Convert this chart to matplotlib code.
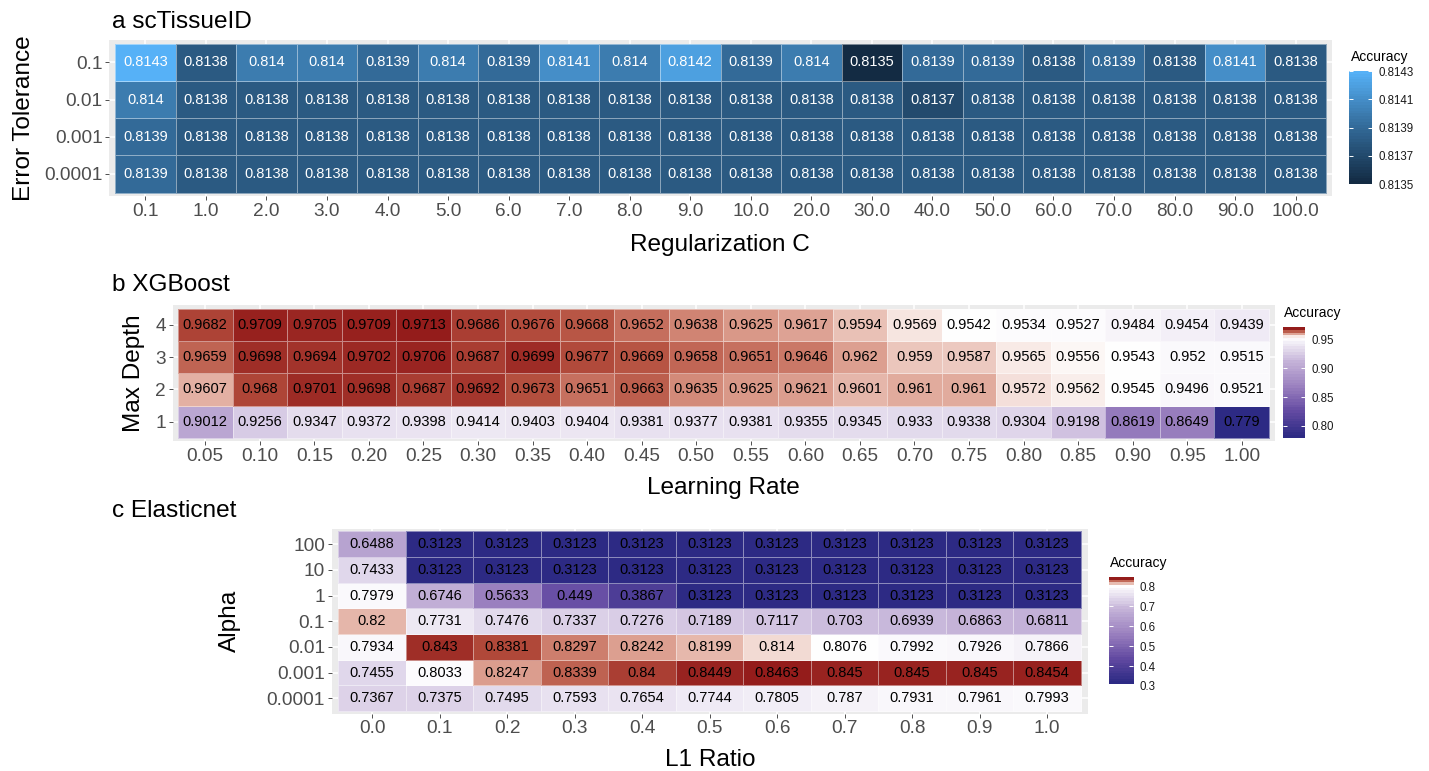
import numpy as np
import matplotlib
matplotlib.use("Agg")
import matplotlib.pyplot as plt
from matplotlib.colors import LinearSegmentedColormap, Normalize, TwoSlopeNorm

plt.rcParams['font.family'] = ['Liberation Sans', 'DejaVu Sans']

# ---- a: scTissueID grid search ----
reg_c = ["0.1", "1.0", "2.0", "3.0", "4.0", "5.0", "6.0", "7.0", "8.0", "9.0",
         "10.0", "20.0", "30.0", "40.0", "50.0", "60.0", "70.0", "80.0", "90.0", "100.0"]
error_tol = ["0.0001", "0.001", "0.01", "0.1"]
sc_tol_1e4 = [0.8139, 0.8138, 0.8138, 0.8138, 0.8138, 0.8138, 0.8138, 0.8138, 0.8138, 0.8138,
              0.8138, 0.8138, 0.8138, 0.8138, 0.8138, 0.8138, 0.8138, 0.8138, 0.8138, 0.8138]
sc_tol_1e3 = [0.8139, 0.8138, 0.8138, 0.8138, 0.8138, 0.8138, 0.8138, 0.8138, 0.8138, 0.8138,
              0.8138, 0.8138, 0.8138, 0.8138, 0.8138, 0.8138, 0.8138, 0.8138, 0.8138, 0.8138]
sc_tol_1e2 = [0.814, 0.8138, 0.8138, 0.8138, 0.8138, 0.8138, 0.8138, 0.8138, 0.8138, 0.8138,
              0.8138, 0.8138, 0.8138, 0.8137, 0.8138, 0.8138, 0.8138, 0.8138, 0.8138, 0.8138]
sc_tol_1e1 = [0.8143, 0.8138, 0.814, 0.814, 0.8139, 0.814, 0.8139, 0.8141, 0.814, 0.8142,
              0.8139, 0.814, 0.8135, 0.8139, 0.8139, 0.8138, 0.8139, 0.8138, 0.8141, 0.8138]

# ---- b: XGBoost grid search ----
learning_rate = ["0.05", "0.10", "0.15", "0.20", "0.25", "0.30", "0.35", "0.40", "0.45", "0.50",
                 "0.55", "0.60", "0.65", "0.70", "0.75", "0.80", "0.85", "0.90", "0.95", "1.00"]
max_depth = ["1", "2", "3", "4"]
xgb_depth1 = [0.9012, 0.9256, 0.9347, 0.9372, 0.9398, 0.9414, 0.9403, 0.9404, 0.9381, 0.9377,
              0.9381, 0.9355, 0.9345, 0.933, 0.9338, 0.9304, 0.9198, 0.8619, 0.8649, 0.779]
xgb_depth2 = [0.9607, 0.968, 0.9701, 0.9698, 0.9687, 0.9692, 0.9673, 0.9651, 0.9663, 0.9635,
              0.9625, 0.9621, 0.9601, 0.961, 0.961, 0.9572, 0.9562, 0.9545, 0.9496, 0.9521]
xgb_depth3 = [0.9659, 0.9698, 0.9694, 0.9702, 0.9706, 0.9687, 0.9699, 0.9677, 0.9669, 0.9658,
              0.9651, 0.9646, 0.962, 0.959, 0.9587, 0.9565, 0.9556, 0.9543, 0.952, 0.9515]
xgb_depth4 = [0.9682, 0.9709, 0.9705, 0.9709, 0.9713, 0.9686, 0.9676, 0.9668, 0.9652, 0.9638,
              0.9625, 0.9617, 0.9594, 0.9569, 0.9542, 0.9534, 0.9527, 0.9484, 0.9454, 0.9439]

# ---- c: Elasticnet grid search ----
l1_ratio = ["0.0", "0.1", "0.2", "0.3", "0.4", "0.5", "0.6", "0.7", "0.8", "0.9", "1.0"]
alpha = ["0.0001", "0.001", "0.01", "0.1", "1", "10", "100"]
en_a1e4 = [0.7367, 0.7375, 0.7495, 0.7593, 0.7654, 0.7744, 0.7805, 0.787, 0.7931, 0.7961, 0.7993]
en_a1e3 = [0.7455, 0.8033, 0.8247, 0.8339, 0.84, 0.8449, 0.8463, 0.845, 0.845, 0.845, 0.8454]
en_a1e2 = [0.7934, 0.843, 0.8381, 0.8297, 0.8242, 0.8199, 0.814, 0.8076, 0.7992, 0.7926, 0.7866]
en_a1e1 = [0.82, 0.7731, 0.7476, 0.7337, 0.7276, 0.7189, 0.7117, 0.703, 0.6939, 0.6863, 0.6811]
en_a1 = [0.7979, 0.6746, 0.5633, 0.449, 0.3867, 0.3123, 0.3123, 0.3123, 0.3123, 0.3123, 0.3123]
en_a10 = [0.7433, 0.3123, 0.3123, 0.3123, 0.3123, 0.3123, 0.3123, 0.3123, 0.3123, 0.3123, 0.3123]
en_a100 = [0.6488, 0.3123, 0.3123, 0.3123, 0.3123, 0.3123, 0.3123, 0.3123, 0.3123, 0.3123, 0.3123]

W, H = 1429, 771
fig = plt.figure(figsize=(W / 100, H / 100), dpi=100)

blues = LinearSegmentedColormap.from_list(
    "gg_blues", ["#132B43", "#336A98", "#56B1F7"])
purple_red = LinearSegmentedColormap.from_list(
    "purple_red",
    [(0.0, "#2D2A84"), (0.125, "#634AA2"), (0.25, "#9A80BF"), (0.375, "#C4B2D8"),
     (0.5, "#FFFFFF"), (0.625, "#EBC5BB"), (0.75, "#D68F7E"), (0.875, "#B5503F"),
     (1.0, "#941C1B")])


def px_box(left, top, right, bottom):
    return [left / W, 1 - bottom / H, (right - left) / W, (bottom - top) / H]


def fig_text(x, y, s, **kw):
    fig.text(x / W, 1 - y / H, s, **kw)


def heatmap(box, rows, xlabels, ylabels, cmap, norm, text_color):
    ax = fig.add_axes(px_box(*box))
    z = np.array(rows)
    ny, nx = z.shape
    ax.set_facecolor("#EBEBEB")
    ax.set_axisbelow(True)
    ax.pcolormesh(np.arange(nx + 1) - 0.5, np.arange(ny + 1) - 0.5, z,
                  cmap=cmap, norm=norm, edgecolors=(1, 1, 1, 0.45), linewidth=0.6)
    for j in range(ny):
        for i in range(nx):
            ax.text(i, j, f"{z[j, i]:g}", ha="center", va="center",
                    fontsize=10.5, color=text_color)
    ax.set_xlim(-0.6, nx - 0.4)
    ax.set_ylim(-0.6, ny - 0.4)
    ax.set_xticks(range(nx))
    ax.set_xticklabels(xlabels)
    ax.set_yticks(range(ny))
    ax.set_yticklabels(ylabels)
    ax.grid(True, color="white", linewidth=1.1)
    for sp in ax.spines.values():
        sp.set_visible(False)
    ax.tick_params(length=2.8, width=0.6, color="#333333", labelcolor="#4D4D4D",
                   labelsize=13.7, pad=1.8)
    return ax


def colorbar(box, cmap, norm, vmin, vmax, ticks, fmt):
    cax = fig.add_axes(px_box(*box))
    vals = np.linspace(vmin, vmax, 40).reshape(-1, 1)
    cax.imshow(cmap(norm(vals)), aspect="auto", origin="lower",
               extent=[0, 1, vmin, vmax], interpolation="nearest")
    cax.set_xlim(0, 1)
    cax.set_ylim(vmin, vmax)
    cax.set_xticks([])
    cax.set_yticks(ticks)
    cax.set_yticklabels([fmt % t for t in ticks])
    cax.tick_params(axis="y", direction="in", length=3.2, width=0.7, color="white",
                    left=True, right=True, labelleft=False, labelright=True,
                    labelsize=8.3, labelcolor="#1A1A1A", pad=5)
    for sp in cax.spines.values():
        sp.set_visible(False)
    return cax


# panel a
sc_rows = [sc_tol_1e4, sc_tol_1e3, sc_tol_1e2, sc_tol_1e1]
sc_norm = Normalize(vmin=0.8135, vmax=0.8143)
heatmap((109, 40, 1332, 196.3), sc_rows, reg_c, error_tol, blues, sc_norm, "white")
colorbar((1349, 71, 1372, 184), blues, sc_norm, 0.8135, 0.8143,
         [0.8135, 0.8137, 0.8139, 0.8141, 0.8143], "%.4f")
fig_text(112, 28, "a scTissueID", fontsize=17.6, va="baseline")
fig_text(720, 251, "Regularization C", fontsize=17.6, ha="center", va="baseline")
fig_text(24, 118, "Error Tolerance", fontsize=17.6, rotation=90, ha="center", va="center")
fig_text(1351, 61, "Accuracy", fontsize=10, va="baseline")

# panel b
xgb_rows = [xgb_depth1, xgb_depth2, xgb_depth3, xgb_depth4]
xgb_min, xgb_max = np.min(xgb_rows), np.max(xgb_rows)
xgb_norm = TwoSlopeNorm(vmin=xgb_min, vcenter=0.955, vmax=xgb_max)
heatmap((172.5, 305.3, 1274.5, 441.2), xgb_rows, learning_rate, max_depth,
        purple_red, xgb_norm, "black")
colorbar((1283, 327, 1305, 438), purple_red, xgb_norm, xgb_min, xgb_max,
         [0.80, 0.85, 0.90, 0.95], "%.2f")
fig_text(112, 290.7, "b XGBoost", fontsize=17.6, va="baseline")
fig_text(723, 494, "Learning Rate", fontsize=17.6, ha="center", va="baseline")
fig_text(134, 373, "Max Depth", fontsize=17.6, rotation=90, ha="center", va="center")
fig_text(1284, 317, "Accuracy", fontsize=10, va="baseline")

# panel c
en_rows = [en_a1e4, en_a1e3, en_a1e2, en_a1e1, en_a1, en_a10, en_a100]
en_min, en_max = np.min(en_rows), np.max(en_rows)
en_norm = TwoSlopeNorm(vmin=en_min, vcenter=0.808, vmax=en_max)
heatmap((331.5, 528.9, 1087.6, 713.6), en_rows, l1_ratio, alpha,
        purple_red, en_norm, "black")
colorbar((1109, 577, 1133, 686), purple_red, en_norm, en_min, en_max,
         [0.3, 0.4, 0.5, 0.6, 0.7, 0.8], "%.1f")
fig_text(112, 516.7, "c Elasticnet", fontsize=17.6, va="baseline")
fig_text(710, 766, "L1 Ratio", fontsize=17.6, ha="center", va="baseline")
fig_text(230, 621, "Alpha", fontsize=17.6, rotation=90, ha="center", va="center")
fig_text(1110, 567, "Accuracy", fontsize=10, va="baseline")

fig.savefig("out.png", dpi=100)
